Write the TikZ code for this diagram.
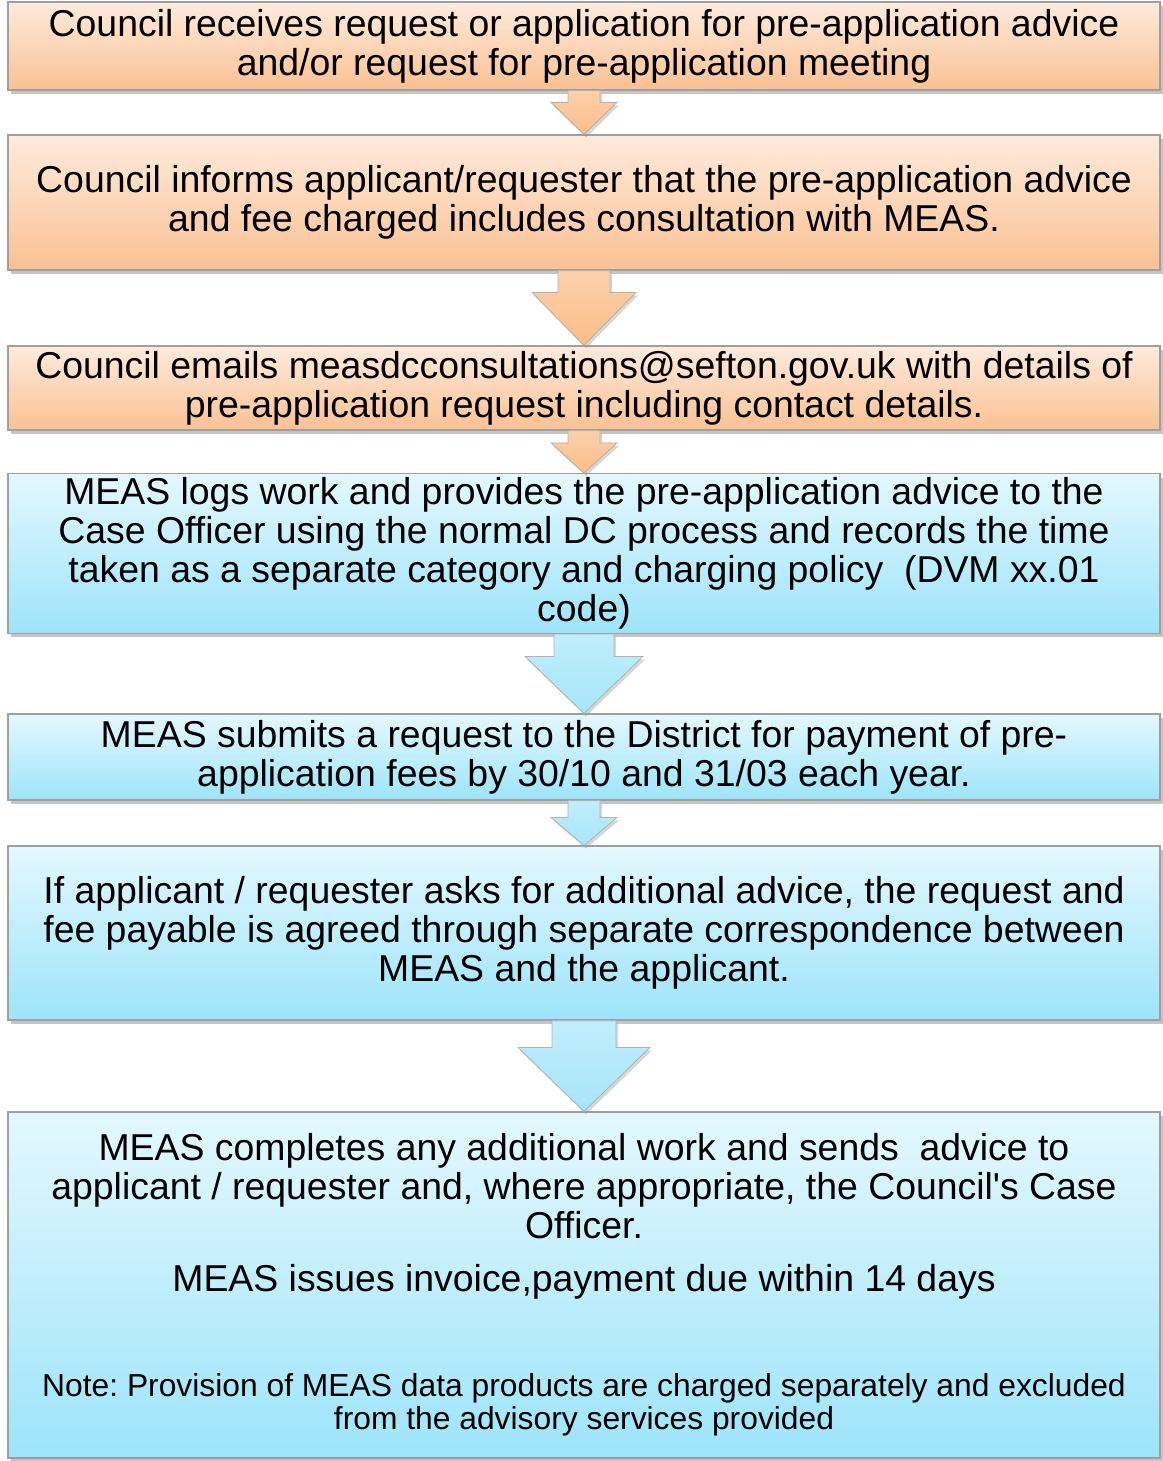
\documentclass[tikz,border=0pt]{standalone}
\usepackage{fontspec}
\setmainfont{Liberation Sans}
\usetikzlibrary{calc,shadows}
\frenchspacing

\definecolor{peachtop}{HTML}{FFEBDD}
\definecolor{peachbot}{HTML}{FAC193}
\definecolor{skytop}{HTML}{E4F8FE}
\definecolor{skybot}{HTML}{9DE4FA}
\definecolor{peacharrow}{HTML}{FBBD88}
\definecolor{skyarrow}{HTML}{A6E6FA}

% down block arrow: style, from node, to node, shaft half, head half, head length
\newcommand{\blockdown}[6]{%
  \path[#1] let \p1=(#2.south), \p2=(#3.north) in
    (\x1-#4,\y1) -- (\x1+#4,\y1) -- (\x1+#4,\y2+#6) -- (\x1+#5,\y2+#6)
    -- (\x1,\y2) -- (\x1-#5,\y2+#6) -- (\x1-#4,\y2+#6) -- cycle;}
\newcommand{\notesize}{\fontsize{15.9}{16.5}\selectfont}

\begin{document}
\begin{tikzpicture}[x=0.5pt, y=-0.5pt,
    stepbox/.style={rectangle, draw=gray!75, line width=0.6pt, minimum width=576pt,
      align=center, inner sep=2pt, font=\fontsize{18.7}{19.5}\selectfont,
      drop shadow={shadow xshift=1.5pt, shadow yshift=-2pt, fill=black!45, opacity=0.5}},
    peachbox/.style={stepbox, top color=peachtop, bottom color=peachbot},
    skybox/.style={stepbox, top color=skytop, bottom color=skybot},
    peachflow/.style={draw=gray!60, line width=0.4pt, top color=peacharrow!70, bottom color=peacharrow,
      drop shadow={shadow xshift=1pt, shadow yshift=-1.5pt, fill=black!40, opacity=0.4}},
    skyflow/.style={draw=gray!60, line width=0.4pt, top color=skyarrow!70, bottom color=skyarrow,
      drop shadow={shadow xshift=1pt, shadow yshift=-1.5pt, fill=black!40, opacity=0.4}}]

    \useasboundingbox (0,0) rectangle (1162,1461);

    \node[peachbox, minimum height=44pt] (request) at (584,46)
      {Council receives request or application for pre-application advice\\
       and/or request for pre-application meeting};
    \node[peachbox, minimum height=67.5pt] (inform) at (584,202.5)
      {Council informs applicant/requester that the pre-application advice\\
       and fee charged includes consultation with MEAS.};
    \node[peachbox, minimum height=42pt] (email) at (584,388)
      {Council emails measdcconsultations@sefton.gov.uk with details of\\
       pre-application request including contact details.};
    \node[skybox, minimum height=77.5pt] (logs) at (584,553.5)
      {MEAS logs work and provides the pre-application advice to the\\
       Case Officer using the normal DC process and records the time\\
       taken as a separate category and charging policy~ (DVM xx.01\\
       code)};
    \node[skybox, minimum height=43pt] (payment) at (584,757)
      {MEAS submits a request to the District for payment of pre-\\
       application fees by 30/10 and 31/03 each year.};
    \node[skybox, minimum height=87pt] (additional) at (584,933)
      {If applicant / requester asks for additional advice, the request and\\
       fee payable is agreed through separate correspondence between\\
       MEAS and the applicant.};
    \node[skybox, minimum height=173pt] (complete) at (584,1285)
      {MEAS completes any additional work and sends~ advice to\\
       applicant / requester and, where appropriate, the Council\textquotesingle s Case\\
       Officer.\\[7pt]
       MEAS issues invoice,payment due within 14 days\\[33pt]
       \notesize Note: Provision of MEAS data products are charged separately and excluded\\[-3pt]
       \notesize from the advisory services provided};

    \blockdown{peachflow}{request}{inform}{8pt}{16.5pt}{16pt}
    \blockdown{peachflow}{inform}{email}{13pt}{26pt}{26.5pt}
    \blockdown{peachflow}{email}{logs}{8pt}{16.5pt}{15pt}
    \blockdown{skyflow}{logs}{payment}{15pt}{29.5pt}{28.5pt}
    \blockdown{skyflow}{payment}{additional}{8pt}{16.5pt}{14pt}
    \blockdown{skyflow}{additional}{complete}{16pt}{33pt}{32pt}
\end{tikzpicture}
\end{document}
